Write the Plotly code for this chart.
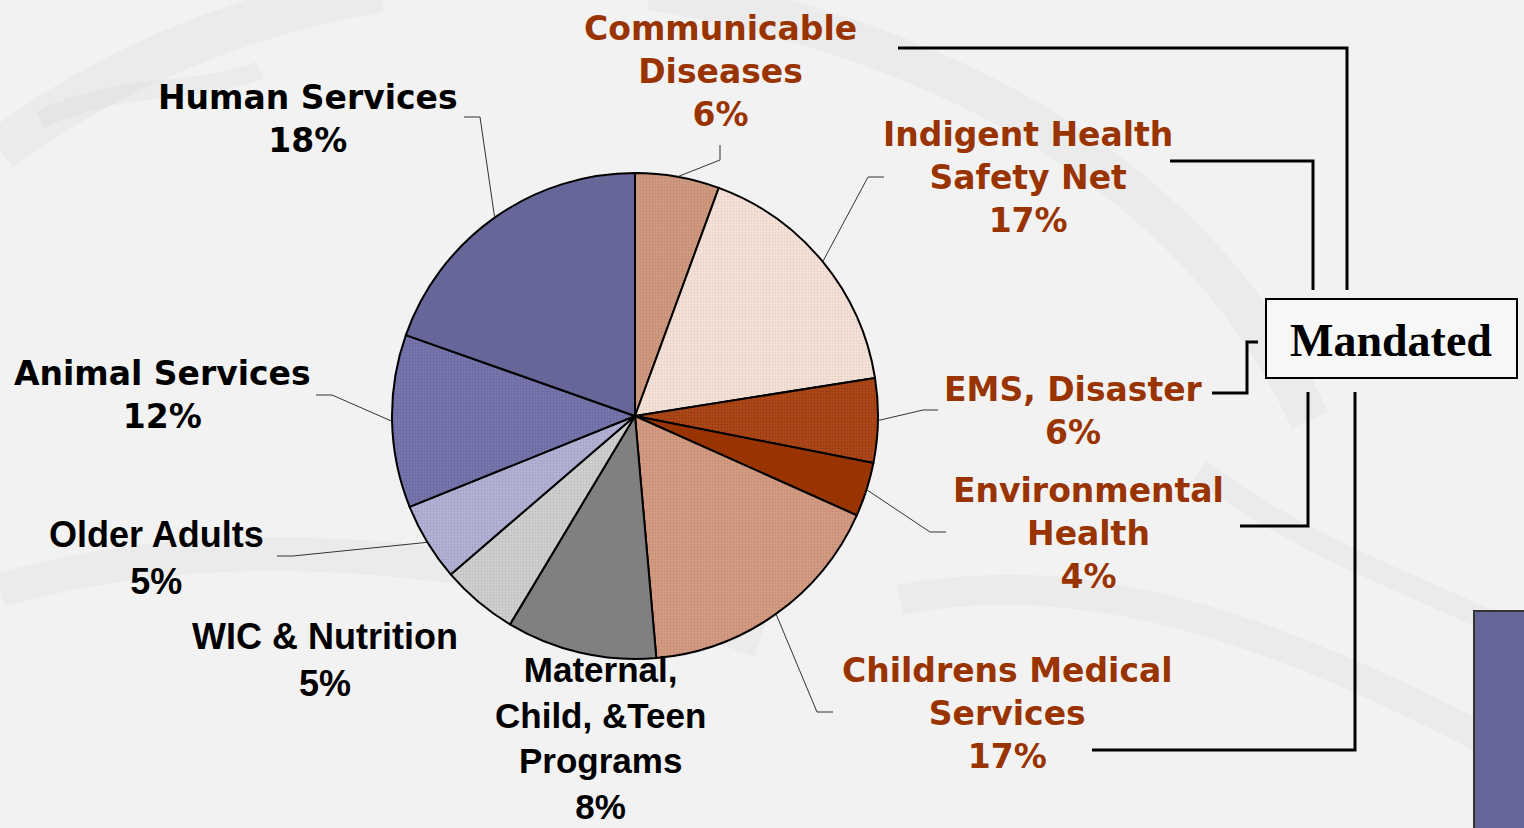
import math
import plotly.graph_objects as go

W, H = 1524, 828

# ---------------- data ----------------
categories = [
    "Communicable Diseases", "Indigent Health Safety Net", "EMS, Disaster",
    "Environmental Health", "Childrens Medical Services",
    "Maternal, Child, &Teen Programs", "WIC & Nutrition", "Older Adults",
    "Animal Services", "Human Services",
]
label_lines = [
    "Communicable<br>Diseases", "Indigent Health<br>Safety Net", "EMS, Disaster",
    "Environmental<br>Health", "Childrens Medical<br>Services",
    "Maternal,<br>Child, &Teen<br>Programs", "WIC & Nutrition", "Older Adults",
    "Animal Services", "Human Services",
]
# slice sizes
values = [5.6, 16.9, 5.6, 3.6, 16.9, 10.0, 5.1, 5.2, 11.5, 19.6]
# percentages printed on the labels
pct_labels = ["6%", "17%", "6%", "4%", "17%", "8%", "5%", "5%", "12%", "18%"]
mandated = [True, True, True, True, True, False, False, False, False, False]

colors = ["#D09A80", "#F5E3DA", "#B04818", "#993300", "#D49C84",
          "#808080", "#D0D0D0", "#B2B2D4", "#7777AE", "#666699"]
pattern_shapes = [".", ".", ".", "", ".", "", ".", ".", ".", ""]
pattern_fg = ["#C38C72", "#E8CFC3", "#933A12", "#993300", "#C68C73",
              "#808080", "#BDBDBD", "#A2A2C8", "#67679E", "#666699"]

# ---------------- layout helpers ----------------
cx, cy, R = 635, 416, 243


def px(x):
    return x / W


def py(y):
    return 1 - y / H


label_pos = [(720, 71), (1028, 177), (1073, 411), (1088, 533), (1007, 713),
             (600, 738), (325, 660), (156, 558), (162, 395), (308, 119)]
wide_font = [True, True, True, True, True, False, False, False, True, True]
font_sizes = [33, 33, 33, 33, 33, 35, 36, 36, 33, 33]

leaders = {
    0: [(720, 160), (720, 145)],
    1: [(868, 177), (884, 177)],
    2: [(923, 410), (938, 410)],
    3: [(930, 532), (946, 532)],
    4: [(817, 712), (833, 712)],
    7: [(293, 556), (277, 556)],
    8: [(332, 395), (316, 395)],
    9: [(480, 117), (464, 117)],
}

fig = go.Figure()

fig.add_trace(go.Pie(
    labels=categories,
    values=values,
    sort=False,
    direction="clockwise",
    rotation=0,
    textinfo="none",
    hoverinfo="label+percent",
    showlegend=False,
    marker=dict(
        colors=colors,
        line=dict(color="#000000", width=2),
        pattern=dict(shape=pattern_shapes, fgcolor=pattern_fg, bgcolor=colors,
                     fillmode="replace", size=3, solidity=0.3),
    ),
    domain=dict(x=[px(cx - R), px(cx + R)], y=[py(cy + R), py(cy - R)]),
))

shapes = []

# background swirls (stethoscope-like faint strokes)
bg_paths = [
    [(0, 150), (120, 60), (260, 10), (380, -10)],
    [(40, 120), (120, 80), (200, 95), (260, 70)],
    [(0, 590), (250, 520), (520, 560), (760, 640)],
    [(650, -10), (950, 40), (1200, 180), (1310, 420)],
    [(900, 600), (1100, 560), (1300, 640), (1524, 760)],
    [(1200, 470), (1320, 560), (1460, 600), (1524, 640)],
]
bg_widths = [44, 18, 34, 40, 30, 22]
for pts, w in zip(bg_paths, bg_widths):
    (x0, y0), (x1, y1), (x2, y2), (x3, y3) = pts
    path = (f"M {px(x0)},{py(y0)} C {px(x1)},{py(y1)} {px(x2)},{py(y2)} "
            f"{px(x3)},{py(y3)}")
    shapes.append(dict(type="path", xref="paper", yref="paper", path=path,
                       line=dict(color="rgba(200,200,200,0.16)", width=w),
                       layer="below"))

# leader lines, starting at each slice's mid-angle on the rim
total = sum(values)
cum = 0.0
for i, v in enumerate(values):
    mid = (cum + v / 2) / total * 2 * math.pi
    cum += v
    if i not in leaders:
        continue
    sx = cx + R * math.sin(mid)
    sy = cy - R * math.cos(mid)
    pts = [(sx, sy)] + leaders[i]
    path = "M " + " L ".join(f"{px(x)},{py(y)}" for x, y in pts)
    shapes.append(dict(type="path", xref="paper", yref="paper", path=path,
                       line=dict(color="#333333", width=1)))

# mandated brackets
brackets = [
    [(898, 48), (1347, 48), (1347, 290)],
    [(1170, 161), (1313, 161), (1313, 290)],
    [(1212, 393), (1247, 393), (1247, 342), (1258, 342)],
    [(1240, 526), (1308, 526), (1308, 392)],
    [(1092, 750), (1355, 750), (1355, 392)],
]
for pts in brackets:
    path = "M " + " L ".join(f"{px(x)},{py(y)}" for x, y in pts)
    shapes.append(dict(type="path", xref="paper", yref="paper", path=path,
                       line=dict(color="#000000", width=3)))

# Mandated box
shapes.append(dict(type="rect", xref="paper", yref="paper",
                   x0=px(1266), x1=px(1517), y0=py(378), y1=py(299),
                   line=dict(color="#000000", width=2), fillcolor="#F7F7F7"))
# purple block at bottom right
shapes.append(dict(type="rect", xref="paper", yref="paper",
                   x0=px(1474), x1=px(1530), y0=py(835), y1=py(611),
                   line=dict(color="#333333", width=2), fillcolor="#666699"))

annotations = []
for i, name in enumerate(label_lines):
    lx, ly = label_pos[i]
    color = "#993300" if mandated[i] else "#000000"
    if wide_font[i]:
        font = dict(family="DejaVu Sans", size=font_sizes[i], color=color)
    else:
        font = dict(family="Liberation Sans, Arial", size=font_sizes[i],
                    color=color)
    annotations.append(dict(
        x=px(lx), y=py(ly), xref="paper", yref="paper",
        text=f"<b>{name}<br>{pct_labels[i]}</b>",
        showarrow=False, xanchor="center", yanchor="middle",
        align="center", font=font,
    ))

annotations.append(dict(
    x=px(1391), y=py(340), xref="paper", yref="paper",
    text="<b>Mandated</b>", showarrow=False, xanchor="center",
    yanchor="middle",
    font=dict(family="Liberation Serif, Times New Roman", size=46,
              color="#000000"),
))

fig.update_layout(
    width=W, height=H,
    margin=dict(l=0, r=0, t=0, b=0),
    paper_bgcolor="#F2F2F2",
    plot_bgcolor="#F2F2F2",
    shapes=shapes,
    annotations=annotations,
)

fig.write_html(
    "out.html",
    config={"displayModeBar": False},
    post_script="document.body.style.margin='0';"
                "document.body.style.overflow='hidden';",
)
